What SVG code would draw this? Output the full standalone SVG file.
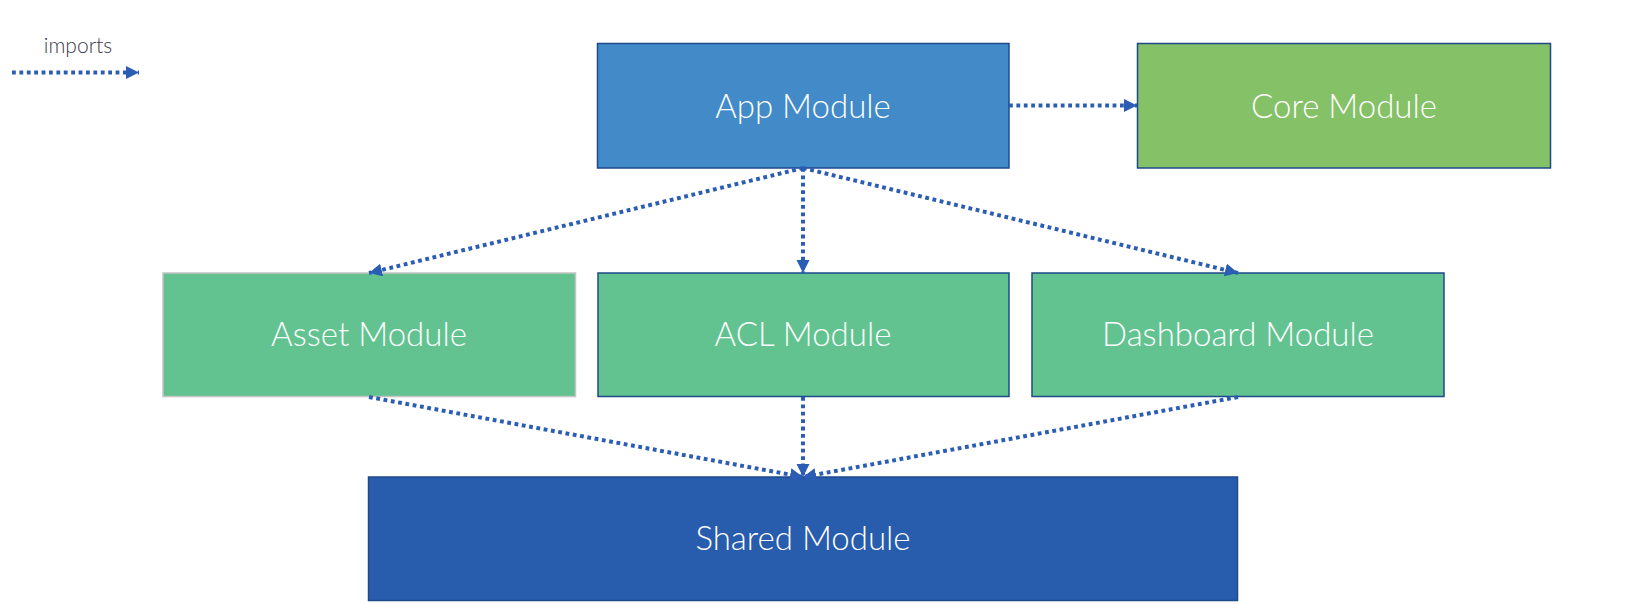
<svg xmlns="http://www.w3.org/2000/svg" width="1626" height="604" viewBox="0 0 1626 604">
<style>
.box{stroke:#1f4a8a;stroke-width:1.5}
.lbl{font-family:Lato,"Liberation Sans",sans-serif;font-weight:300;font-size:33px;fill:#ffffff;text-anchor:middle}
.con{fill:none;stroke:#2a5db3;stroke-width:4;stroke-dasharray:3.8 3.6;marker-end:url(#ah)}
</style>
<defs>
<marker id="ah" markerUnits="userSpaceOnUse" markerWidth="14" markerHeight="14" refX="13" refY="6.5" orient="auto">
<path d="M0,0 L13,6.5 L0,13 z" fill="#2a5db3"/>
</marker>
</defs>
<rect width="1626" height="604" fill="#ffffff"/>
<g id="legend">
<text x="78" y="53" font-family="Lato,'Liberation Sans',sans-serif" font-weight="300" font-size="21" fill="#3a3a4a" text-anchor="middle">imports</text>
<line x1="12" y1="72.5" x2="139" y2="72.5" class="con"/>
</g>
<g id="app"><rect class="box" x="597.5" y="43.5" width="411.5" height="124.5" fill="#428ac8"/><text class="lbl" x="803" y="117.5">App Module</text></g>
<g id="core"><rect class="box" x="1137.5" y="43.5" width="413" height="124.5" fill="#85c167"/><text class="lbl" x="1344" y="117.5">Core Module</text></g>
<g id="asset"><rect x="163" y="273" width="412.5" height="123.5" fill="#62c390" stroke="#c4c4c4" stroke-width="1.5"/><text class="lbl" x="369" y="346">Asset Module</text></g>
<g id="acl"><rect class="box" x="598" y="273" width="411" height="123.5" fill="#62c390"/><text class="lbl" x="803" y="346">ACL Module</text></g>
<g id="dashboard"><rect class="box" x="1032" y="273" width="412" height="123.5" fill="#62c390"/><text class="lbl" x="1238" y="346">Dashboard Module</text></g>
<g id="shared"><rect class="box" x="368.5" y="477" width="869" height="123.5" fill="#285cad"/><text class="lbl" x="803" y="550">Shared Module</text></g>
<g id="connectors">
<line class="con" x1="1009" y1="105.5" x2="1137" y2="105.5"/>
<line class="con" x1="803" y1="168" x2="369" y2="273"/>
<line class="con" x1="803" y1="168" x2="803" y2="273"/>
<line class="con" x1="803" y1="168" x2="1238" y2="273"/>
<line class="con" x1="369" y1="397" x2="803" y2="477"/>
<line class="con" x1="803" y1="397" x2="803" y2="477"/>
<line class="con" x1="1238" y1="397" x2="803" y2="477"/>
</g>
</svg>
